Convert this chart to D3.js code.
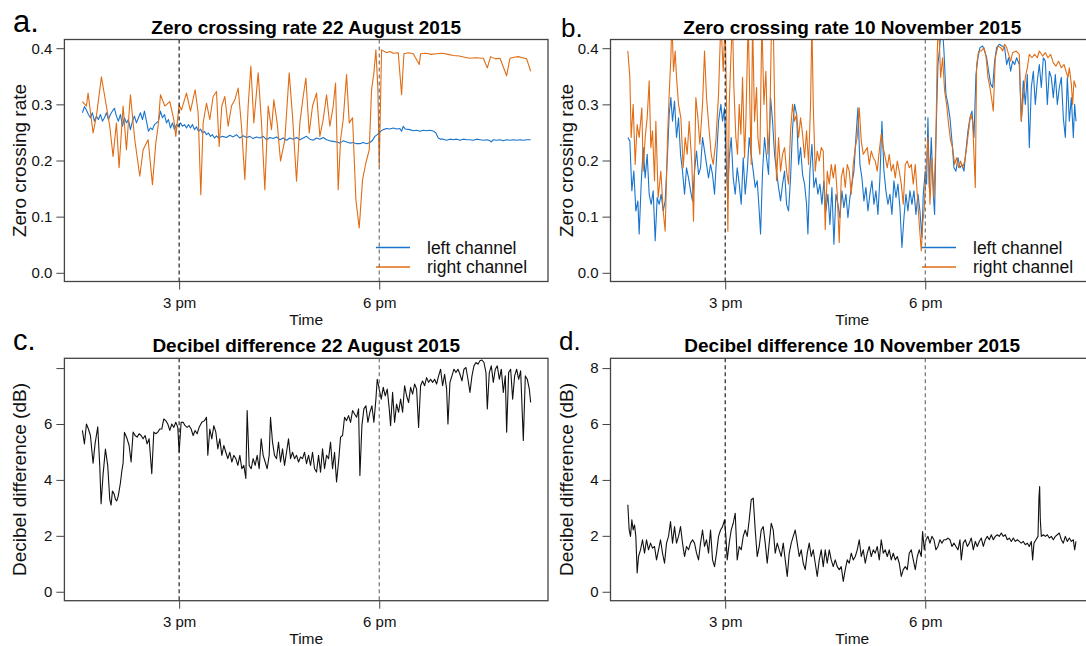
<!DOCTYPE html>
<html>
<head>
<meta charset="utf-8">
<script src="https://cdn.jsdelivr.net/npm/d3@7"></script>
<style>
  body { margin: 0; background: #fff; }
  svg { display: block; font-family: "Liberation Sans", Arial, Helvetica, sans-serif; }
</style>
</head>
<body>
<div id="chart"></div>
<script>
// ---- data (time in decimal hours) ----
const xTicks = [15, 18];
const xTickLabels = ["3 pm", "6 pm"];
const zcrTicks = [0, 0.1, 0.2, 0.3, 0.4];
const zcrTickLabels = ["0.0", "0.1", "0.2", "0.3", "0.4"];
const dbTicks = [0, 2, 4, 6, 8];
const dbTickLabelsAug = ["0", "2", "4", "6", ""];
const dbTickLabelsNov = ["0", "2", "4", "6", "8"];
const seriesNames = ["left channel", "right channel"];

// a. zero crossing rate, 22 August 2015
const zcrAugLeft = [[13.55,.285],[13.58,.296],[13.61,.290],[13.64,.282],[13.67,.276],[13.70,.285],[13.73,.270],[13.76,.279],[13.79,.273],[13.82,.282],[13.85,.270],[13.88,.276],[13.91,.285],[13.94,.273],[13.97,.282],[14.00,.288],[14.03,.293],[14.06,.279],[14.09,.270],[14.12,.282],[14.15,.261],[14.18,.276],[14.21,.267],[14.24,.273],[14.27,.255],[14.30,.270],[14.33,.279],[14.36,.267],[14.39,.276],[14.42,.285],[14.45,.273],[14.48,.288],[14.51,.270],[14.54,.252],[14.57,.258],[14.60,.255],[14.63,.264],[14.66,.267],[14.69,.270],[14.72,.288],[14.75,.276],[14.78,.282],[14.81,.267],[14.84,.273],[14.87,.258],[14.90,.267],[14.93,.255],[14.96,.264],[14.99,.261],[15.02,.267],[15.05,.261],[15.08,.264],[15.11,.258],[15.14,.264],[15.17,.258],[15.20,.264],[15.23,.255],[15.26,.260],[15.29,.252],[15.32,.256],[15.35,.249],[15.38,.252],[15.41,.246],[15.44,.249],[15.47,.243],[15.50,.246],[15.53,.240],[15.56,.244],[15.59,.240],[15.65,.243],[15.71,.241],[15.76,.245],[15.81,.242],[15.86,.246],[15.91,.240],[15.96,.244],[16.01,.241],[16.06,.243],[16.11,.239],[16.16,.242],[16.21,.240],[16.26,.243],[16.31,.237],[16.36,.241],[16.41,.239],[16.46,.242],[16.51,.237],[16.56,.240],[16.61,.236],[16.66,.240],[16.71,.238],[16.76,.241],[16.81,.237],[16.86,.240],[16.91,.243],[16.96,.238],[17.01,.236],[17.06,.240],[17.11,.238],[17.16,.241],[17.21,.237],[17.26,.235],[17.31,.234],[17.36,.233],[17.41,.231],[17.46,.235],[17.51,.233],[17.56,.231],[17.61,.232],[17.66,.230],[17.71,.230],[17.76,.232],[17.81,.230],[17.86,.232],[17.90,.236],[17.935,.243],[17.97,.246],[18.00,.249],[18.03,.253],[18.06,.255],[18.11,.257],[18.16,.256],[18.21,.258],[18.26,.256],[18.31,.257],[18.335,.252],[18.36,.261],[18.39,.256],[18.46,.255],[18.51,.253],[18.56,.254],[18.61,.252],[18.66,.254],[18.71,.253],[18.76,.254],[18.82,.252],[18.85,.249],[18.885,.240],[18.92,.238],[18.96,.238],[19.01,.236],[19.06,.238],[19.11,.237],[19.16,.238],[19.21,.236],[19.26,.238],[19.31,.237],[19.36,.237],[19.41,.236],[19.46,.238],[19.51,.237],[19.56,.236],[19.62,.237],[19.66,.235],[19.68,.233],[19.71,.237],[19.76,.236],[19.81,.237],[19.86,.235],[19.91,.237],[19.96,.236],[20.01,.237],[20.06,.236],[20.11,.237],[20.16,.236],[20.21,.237],[20.27,.237]];
const zcrAugRight = [[13.55,.305],[13.61,.297],[13.635,.320],[13.71,.249],[13.76,.279],[13.835,.349],[13.885,.314],[13.96,.261],[14.01,.207],[14.06,.267],[14.10,.187],[14.16,.297],[14.21,.219],[14.27,.317],[14.335,.237],[14.41,.172],[14.46,.219],[14.535,.237],[14.60,.157],[14.65,.231],[14.685,.261],[14.72,.317],[14.785,.297],[14.86,.305],[14.92,.273],[14.95,.243],[15.00,.299],[15.035,.290],[15.11,.320],[15.17,.288],[15.24,.326],[15.285,.285],[15.325,.139],[15.36,.267],[15.41,.302],[15.46,.273],[15.51,.314],[15.56,.323],[15.60,.225],[15.64,.297],[15.685,.314],[15.735,.261],[15.785,.297],[15.835,.308],[15.885,.329],[15.935,.261],[15.985,.166],[16.035,.297],[16.075,.368],[16.12,.267],[16.185,.356],[16.235,.267],[16.285,.148],[16.335,.297],[16.385,.255],[16.42,.308],[16.47,.267],[16.52,.199],[16.585,.237],[16.65,.356],[16.70,.279],[16.76,.163],[16.81,.267],[16.86,.314],[16.90,.347],[16.95,.249],[17.00,.297],[17.06,.320],[17.11,.243],[17.16,.273],[17.21,.317],[17.26,.261],[17.31,.297],[17.345,.338],[17.385,.148],[17.42,.237],[17.46,.273],[17.51,.353],[17.55,.267],[17.60,.276],[17.65,.130],[17.70,.080],[17.75,.166],[17.80,.196],[17.85,.219],[17.885,.326],[17.92,.356],[17.95,.397],[17.98,.326],[18.00,.190],[18.035,.397],[18.11,.392],[18.16,.394],[18.21,.391],[18.285,.392],[18.335,.317],[18.37,.390],[18.44,.392],[18.51,.390],[18.60,.371],[18.62,.390],[18.70,.391],[18.78,.389],[18.86,.390],[18.95,.391],[19.03,.389],[19.11,.387],[19.20,.386],[19.28,.384],[19.36,.382],[19.45,.383],[19.56,.382],[19.62,.365],[19.67,.385],[19.74,.381],[19.81,.382],[19.91,.351],[19.96,.382],[20.02,.384],[20.085,.385],[20.15,.383],[20.21,.381],[20.27,.359]];

// b. zero crossing rate, 10 November 2015
const zcrNovLeft = [[13.54,.241],[13.57,.235],[13.60,.146],[13.63,.181],[13.66,.110],[13.69,.128],[13.71,.069],[13.74,.158],[13.77,.223],[13.80,.169],[13.83,.211],[13.86,.140],[13.89,.122],[13.92,.146],[13.95,.057],[13.98,.134],[14.01,.122],[14.04,.140],[14.07,.110],[14.10,.128],[14.135,.211],[14.16,.282],[14.185,.312],[14.21,.270],[14.24,.306],[14.27,.241],[14.30,.276],[14.33,.211],[14.36,.181],[14.39,.140],[14.42,.187],[14.45,.169],[14.48,.146],[14.51,.128],[14.54,.181],[14.57,.217],[14.60,.175],[14.63,.187],[14.66,.241],[14.69,.217],[14.72,.193],[14.75,.169],[14.78,.193],[14.81,.175],[14.84,.140],[14.87,.205],[14.90,.270],[14.935,.300],[14.96,.270],[14.99,.294],[15.02,.181],[15.04,.134],[15.06,.205],[15.09,.241],[15.12,.169],[15.15,.140],[15.18,.187],[15.21,.158],[15.24,.122],[15.27,.205],[15.30,.140],[15.33,.181],[15.36,.241],[15.39,.211],[15.42,.181],[15.45,.152],[15.48,.164],[15.51,.110],[15.53,.069],[15.56,.181],[15.59,.241],[15.62,.205],[15.65,.175],[15.68,.312],[15.71,.270],[15.74,.211],[15.77,.181],[15.80,.152],[15.83,.128],[15.86,.158],[15.89,.181],[15.92,.122],[15.95,.110],[15.98,.169],[16.01,.258],[16.04,.300],[16.07,.282],[16.10,.193],[16.13,.223],[16.16,.175],[16.19,.158],[16.22,.122],[16.24,.069],[16.27,.181],[16.30,.229],[16.33,.152],[16.36,.169],[16.39,.140],[16.42,.158],[16.45,.122],[16.48,.164],[16.51,.110],[16.54,.140],[16.57,.086],[16.60,.152],[16.63,.051],[16.66,.140],[16.69,.122],[16.72,.098],[16.75,.146],[16.78,.116],[16.81,.140],[16.84,.098],[16.87,.134],[16.90,.158],[16.93,.181],[16.96,.241],[16.99,.294],[17.02,.193],[17.05,.169],[17.08,.128],[17.11,.152],[17.14,.110],[17.17,.140],[17.20,.164],[17.23,.122],[17.26,.146],[17.29,.104],[17.32,.169],[17.35,.270],[17.38,.181],[17.41,.146],[17.44,.122],[17.47,.140],[17.50,.104],[17.53,.164],[17.56,.134],[17.59,.158],[17.62,.116],[17.65,.045],[17.68,.098],[17.71,.140],[17.74,.110],[17.77,.146],[17.80,.122],[17.83,.146],[17.86,.104],[17.89,.140],[17.92,.110],[17.95,.063],[17.97,.140],[18.00,.181],[18.02,.158],[18.04,.276],[18.06,.152],[18.09,.241],[18.12,.140],[18.14,.104],[18.16,.241],[18.19,.371],[18.22,.407],[18.25,.450],[18.28,.395],[18.31,.318],[18.34,.300],[18.37,.276],[18.40,.235],[18.43,.187],[18.46,.181],[18.49,.205],[18.52,.187],[18.55,.193],[18.58,.181],[18.61,.217],[18.64,.253],[18.67,.276],[18.70,.288],[18.73,.241],[18.76,.353],[18.79,.383],[18.82,.401],[18.86,.404],[18.89,.395],[18.92,.383],[18.95,.359],[18.98,.336],[19.01,.330],[19.04,.377],[19.07,.401],[19.11,.407],[19.15,.404],[19.19,.401],[19.22,.371],[19.25,.383],[19.28,.359],[19.31,.377],[19.34,.371],[19.37,.383],[19.41,.371],[19.44,.270],[19.47,.342],[19.50,.300],[19.53,.353],[19.56,.223],[19.59,.330],[19.62,.359],[19.65,.300],[19.68,.342],[19.71,.371],[19.74,.330],[19.77,.383],[19.80,.377],[19.83,.300],[19.86,.359],[19.89,.348],[19.92,.312],[19.95,.353],[19.98,.300],[20.01,.330],[20.04,.348],[20.07,.276],[20.10,.241],[20.13,.348],[20.16,.270],[20.19,.312],[20.22,.241],[20.24,.300],[20.26,.270]];
const zcrNovRight = [[13.54,.395],[13.57,.348],[13.59,.241],[13.62,.300],[13.65,.193],[13.68,.264],[13.71,.241],[13.75,.294],[13.77,.181],[13.80,.241],[13.83,.276],[13.86,.342],[13.885,.223],[13.91,.253],[13.94,.164],[13.96,.270],[13.995,.134],[14.035,.181],[14.07,.110],[14.10,.074],[14.135,.241],[14.16,.318],[14.185,.383],[14.20,.450],[14.225,.359],[14.25,.395],[14.27,.348],[14.30,.300],[14.335,.276],[14.37,.187],[14.40,.241],[14.43,.211],[14.46,.270],[14.50,.193],[14.525,.092],[14.56,.312],[14.59,.276],[14.62,.229],[14.66,.300],[14.69,.395],[14.72,.312],[14.76,.253],[14.79,.211],[14.82,.193],[14.86,.235],[14.90,.318],[14.935,.450],[14.97,.359],[15.00,.450],[15.02,.300],[15.04,.074],[15.06,.300],[15.085,.383],[15.11,.450],[15.13,.330],[15.16,.241],[15.185,.211],[15.21,.300],[15.235,.247],[15.26,.348],[15.29,.205],[15.31,.270],[15.345,.450],[15.37,.300],[15.39,.193],[15.41,.450],[15.44,.270],[15.47,.330],[15.49,.241],[15.52,.211],[15.55,.450],[15.58,.300],[15.61,.359],[15.64,.211],[15.67,.270],[15.695,.450],[15.72,.450],[15.745,.270],[15.77,.164],[15.80,.241],[15.83,.181],[15.86,.211],[15.89,.223],[15.92,.181],[15.95,.158],[15.98,.253],[16.01,.300],[16.04,.270],[16.07,.282],[16.10,.241],[16.13,.276],[16.16,.247],[16.19,.205],[16.22,.253],[16.25,.193],[16.28,.300],[16.30,.450],[16.32,.300],[16.35,.181],[16.38,.217],[16.41,.199],[16.44,.223],[16.47,.217],[16.50,.077],[16.53,.181],[16.56,.158],[16.59,.193],[16.62,.169],[16.65,.193],[16.68,.140],[16.71,.054],[16.74,.169],[16.77,.187],[16.80,.152],[16.83,.193],[16.86,.181],[16.89,.140],[16.92,.193],[16.95,.223],[16.98,.241],[17.01,.294],[17.04,.235],[17.07,.211],[17.10,.217],[17.13,.223],[17.16,.193],[17.19,.217],[17.22,.205],[17.25,.199],[17.28,.181],[17.31,.217],[17.34,.247],[17.37,.223],[17.40,.205],[17.43,.187],[17.46,.211],[17.49,.181],[17.52,.193],[17.55,.169],[17.58,.199],[17.61,.181],[17.64,.158],[17.67,.122],[17.70,.193],[17.73,.199],[17.76,.187],[17.79,.193],[17.82,.158],[17.85,.193],[17.88,.140],[17.91,.086],[17.94,.039],[17.96,.086],[17.985,.116],[18.01,.181],[18.04,.241],[18.07,.122],[18.10,.205],[18.13,.134],[18.16,.241],[18.18,.395],[18.20,.450],[18.23,.348],[18.26,.383],[18.29,.324],[18.32,.300],[18.35,.264],[18.38,.235],[18.41,.223],[18.44,.193],[18.47,.205],[18.50,.187],[18.53,.199],[18.56,.187],[18.59,.199],[18.62,.223],[18.65,.253],[18.68,.282],[18.71,.270],[18.73,.211],[18.75,.152],[18.77,.371],[18.80,.395],[18.84,.395],[18.88,.401],[18.91,.386],[18.94,.348],[18.97,.330],[19.00,.306],[19.02,.288],[19.05,.383],[19.09,.404],[19.13,.401],[19.16,.395],[19.19,.407],[19.22,.401],[19.25,.389],[19.28,.377],[19.31,.392],[19.36,.395],[19.41,.389],[19.44,.270],[19.47,.312],[19.50,.348],[19.53,.365],[19.56,.389],[19.60,.383],[19.64,.389],[19.68,.383],[19.71,.395],[19.76,.386],[19.80,.392],[19.84,.383],[19.88,.389],[19.92,.374],[19.96,.368],[20.00,.377],[20.04,.365],[20.08,.371],[20.11,.359],[20.14,.348],[20.16,.365],[20.19,.336],[20.21,.300],[20.23,.342],[20.26,.330]];

// c. decibel difference, 22 August 2015
const dbAug = [[13.55,5.77],[13.58,5.29],[13.61,6.00],[13.64,5.82],[13.67,5.59],[13.71,4.60],[13.74,5.30],[13.78,5.90],[13.81,4.50],[13.83,3.15],[13.86,4.20],[13.895,5.10],[13.93,4.50],[13.96,3.30],[13.98,3.10],[14.00,3.60],[14.025,3.50],[14.045,3.30],[14.065,3.25],[14.085,3.40],[14.10,3.60],[14.12,3.90],[14.14,4.30],[14.16,4.60],[14.18,5.70],[14.19,5.65],[14.22,5.47],[14.25,5.23],[14.28,4.64],[14.31,5.71],[14.34,5.59],[14.37,5.53],[14.40,5.65],[14.43,5.59],[14.46,5.47],[14.49,5.59],[14.52,5.29],[14.55,5.47],[14.59,4.22],[14.62,5.71],[14.65,5.65],[14.68,5.71],[14.71,5.82],[14.74,5.82],[14.77,6.18],[14.80,6.12],[14.83,6.00],[14.86,5.77],[14.89,6.00],[14.92,5.88],[14.95,6.06],[14.98,5.88],[15.00,4.99],[15.03,6.06],[15.06,6.06],[15.09,5.94],[15.12,5.88],[15.15,5.94],[15.18,5.82],[15.21,5.59],[15.24,5.77],[15.27,5.65],[15.30,5.88],[15.34,6.06],[15.38,6.12],[15.41,6.24],[15.43,4.88],[15.46,5.82],[15.49,5.47],[15.52,5.94],[15.55,5.71],[15.58,5.11],[15.61,5.47],[15.64,4.88],[15.67,5.23],[15.70,4.99],[15.73,4.76],[15.76,4.99],[15.79,4.64],[15.82,4.88],[15.85,4.76],[15.88,4.52],[15.91,4.88],[15.94,4.40],[15.97,4.52],[16.00,4.05],[16.02,6.48],[16.05,4.52],[16.08,4.40],[16.11,4.76],[16.14,4.52],[16.17,4.88],[16.20,4.40],[16.23,5.47],[16.26,4.88],[16.29,4.64],[16.32,4.40],[16.35,4.88],[16.37,6.24],[16.40,5.35],[16.43,4.88],[16.46,4.76],[16.49,5.35],[16.52,4.64],[16.55,5.11],[16.58,4.52],[16.61,4.99],[16.64,5.47],[16.67,4.76],[16.70,4.99],[16.73,4.76],[16.76,4.88],[16.79,4.64],[16.82,4.82],[16.85,4.76],[16.88,4.99],[16.91,4.58],[16.94,4.88],[16.97,4.52],[17.00,4.99],[17.03,4.40],[17.06,4.28],[17.09,4.88],[17.12,4.28],[17.15,5.11],[17.18,4.40],[17.21,4.88],[17.24,4.76],[17.27,5.35],[17.30,4.40],[17.33,4.99],[17.36,3.93],[17.39,4.64],[17.42,5.53],[17.45,5.59],[17.48,6.24],[17.51,6.12],[17.54,6.30],[17.57,6.06],[17.60,6.48],[17.63,6.36],[17.66,6.24],[17.69,6.54],[17.71,4.16],[17.74,5.94],[17.77,6.54],[17.80,6.65],[17.83,6.06],[17.86,6.42],[17.89,6.65],[17.92,6.06],[17.95,6.89],[17.97,7.60],[18.00,7.25],[18.03,6.89],[18.06,7.31],[18.09,7.01],[18.12,7.25],[18.15,6.54],[18.17,5.94],[18.20,7.13],[18.23,6.06],[18.26,6.71],[18.29,6.42],[18.32,6.89],[18.35,6.42],[18.38,7.37],[18.41,7.01],[18.44,6.77],[18.47,7.31],[18.50,7.07],[18.53,7.43],[18.56,7.25],[18.59,5.88],[18.62,7.37],[18.65,7.54],[18.68,7.37],[18.71,7.66],[18.74,7.49],[18.77,7.60],[18.80,7.49],[18.83,7.60],[18.86,7.43],[18.89,7.72],[18.92,7.96],[18.95,7.37],[18.98,7.78],[19.01,7.25],[19.03,6.00],[19.06,7.49],[19.09,7.72],[19.12,7.96],[19.15,7.84],[19.18,7.96],[19.21,7.78],[19.24,7.54],[19.27,7.96],[19.30,8.02],[19.33,7.60],[19.36,7.13],[19.39,7.72],[19.42,8.08],[19.45,8.20],[19.48,8.14],[19.51,8.26],[19.54,8.29],[19.57,8.20],[19.60,7.84],[19.62,6.54],[19.65,7.84],[19.68,8.08],[19.71,7.49],[19.74,7.96],[19.77,8.08],[19.80,7.60],[19.83,7.96],[19.86,7.13],[19.89,7.72],[19.91,5.71],[19.94,7.84],[19.97,7.96],[20.00,6.89],[20.03,7.72],[20.06,7.96],[20.09,7.60],[20.12,7.90],[20.16,5.41],[20.19,7.72],[20.22,7.60],[20.25,7.25],[20.27,6.77]];

// d. decibel difference, 10 November 2015
const dbNov = [[13.54,3.11],[13.56,2.21],[13.58,1.98],[13.60,2.57],[13.62,2.21],[13.64,2.39],[13.66,1.98],[13.68,0.67],[13.70,1.26],[13.73,1.50],[13.76,1.86],[13.79,1.38],[13.82,1.86],[13.85,1.50],[13.88,1.74],[13.91,1.56],[13.94,1.62],[13.97,1.14],[14.00,1.50],[14.03,1.86],[14.06,1.38],[14.09,1.02],[14.12,1.74],[14.15,1.98],[14.18,2.51],[14.21,1.74],[14.24,2.33],[14.27,1.74],[14.30,1.98],[14.33,2.33],[14.36,1.74],[14.39,1.26],[14.42,1.62],[14.45,1.50],[14.48,1.74],[14.51,1.86],[14.54,1.74],[14.57,1.38],[14.60,1.14],[14.63,1.74],[14.66,2.21],[14.69,1.62],[14.72,1.86],[14.75,1.38],[14.78,2.21],[14.81,1.14],[14.84,0.90],[14.87,1.38],[14.90,1.98],[14.93,2.21],[14.96,2.33],[14.99,2.57],[15.01,1.98],[15.03,1.14],[15.06,1.74],[15.09,2.21],[15.12,2.45],[15.15,2.81],[15.18,1.14],[15.21,1.62],[15.24,1.50],[15.27,1.98],[15.30,2.21],[15.33,1.98],[15.36,2.57],[15.39,3.29],[15.42,3.35],[15.45,2.21],[15.48,1.26],[15.51,1.62],[15.54,2.21],[15.57,2.33],[15.60,1.74],[15.63,1.02],[15.66,1.74],[15.69,2.45],[15.72,2.21],[15.75,1.38],[15.78,1.74],[15.81,1.50],[15.84,1.26],[15.87,1.74],[15.90,1.14],[15.93,0.55],[15.96,1.38],[15.99,1.74],[16.02,1.98],[16.05,2.21],[16.08,1.74],[16.11,1.26],[16.14,1.50],[16.17,1.02],[16.20,0.79],[16.23,1.38],[16.26,1.74],[16.29,1.26],[16.32,1.50],[16.35,1.02],[16.38,0.55],[16.41,1.14],[16.44,1.50],[16.47,0.90],[16.50,1.50],[16.53,1.02],[16.56,1.50],[16.59,1.14],[16.62,0.90],[16.65,1.14],[16.68,0.90],[16.71,0.79],[16.74,0.90],[16.77,0.37],[16.80,0.79],[16.83,1.14],[16.86,1.02],[16.89,1.38],[16.92,1.14],[16.95,1.26],[16.98,1.50],[17.01,1.86],[17.04,1.26],[17.07,1.50],[17.10,1.02],[17.13,1.38],[17.16,1.62],[17.19,1.26],[17.22,1.50],[17.25,1.38],[17.28,1.62],[17.31,1.14],[17.34,1.86],[17.37,1.38],[17.40,1.50],[17.43,1.26],[17.46,1.50],[17.49,1.14],[17.52,1.38],[17.55,1.14],[17.58,1.26],[17.61,1.02],[17.64,0.55],[17.67,0.79],[17.70,0.90],[17.73,0.79],[17.76,1.38],[17.79,1.50],[17.82,1.14],[17.85,0.79],[17.88,1.26],[17.91,1.50],[17.94,1.26],[17.96,2.15],[17.985,1.50],[18.01,1.86],[18.04,1.98],[18.07,1.74],[18.10,1.98],[18.13,1.86],[18.16,1.50],[18.19,1.62],[18.22,1.86],[18.25,1.74],[18.28,1.86],[18.31,1.86],[18.34,1.92],[18.37,1.86],[18.40,1.62],[18.43,1.74],[18.46,1.62],[18.49,1.50],[18.52,1.86],[18.54,1.14],[18.57,1.74],[18.60,1.86],[18.63,1.62],[18.66,1.74],[18.69,1.92],[18.72,1.50],[18.75,1.80],[18.78,1.62],[18.81,1.80],[18.84,1.92],[18.87,1.62],[18.90,1.86],[18.93,1.98],[18.96,1.86],[18.99,2.04],[19.02,1.86],[19.05,1.98],[19.08,2.04],[19.11,1.98],[19.14,2.10],[19.17,1.98],[19.20,2.04],[19.23,1.86],[19.26,1.92],[19.29,1.80],[19.32,1.92],[19.35,1.80],[19.38,1.86],[19.41,1.80],[19.44,1.74],[19.47,1.80],[19.50,1.68],[19.53,1.74],[19.56,1.62],[19.59,1.80],[19.61,1.14],[19.63,1.74],[19.66,1.86],[19.69,1.98],[19.705,3.40],[19.715,3.76],[19.725,2.57],[19.74,1.98],[19.77,2.04],[19.80,1.98],[19.83,2.04],[19.86,1.92],[19.89,1.98],[19.92,1.86],[19.95,1.98],[19.98,2.04],[20.01,2.10],[20.04,1.86],[20.07,1.74],[20.10,1.98],[20.13,1.80],[20.16,1.92],[20.19,1.80],[20.22,1.86],[20.24,1.50],[20.26,1.80]];

const leftColor = "#1874cd", rightColor = "#e06c14";

const svg = d3.select("#chart")
  .append("svg")
    .attr("width", 1086)
    .attr("height", 646);

let clipId = 0;

function drawPanel(p) {
  const x = d3.scaleLinear().domain([13.28, 20.53]).range([p.left, p.right]);
  const y = d3.scaleLinear().domain(p.yDomain).range([p.bottom, p.top]);
  const g = svg.append("g");

  // y axis
  const yAxis = g.append("g")
      .attr("transform", `translate(${p.left},0)`)
      .call(d3.axisLeft(y).tickValues(p.yTicks).tickFormat((d, i) => p.yTickLabels[i]).tickSize(8).tickPadding(4));
  yAxis.select(".domain").remove();

  // x axis
  const xAxis = g.append("g")
      .attr("transform", `translate(0,${p.bottom})`)
      .call(d3.axisBottom(x).tickValues(xTicks).tickFormat((d, i) => xTickLabels[i]).tickSize(8).tickPadding(8));
  xAxis.select(".domain").remove();

  g.selectAll(".tick line").attr("stroke", "#444");
  g.selectAll(".tick text")
      .attr("fill", "#111")
      .style("font-size", "15px")
      .style("font-family", '"Liberation Sans", Arial, sans-serif');

  // data lines
  const id = "clip" + (clipId++);
  g.append("clipPath").attr("id", id)
    .append("rect")
      .attr("x", p.left).attr("y", p.top)
      .attr("width", p.right - p.left).attr("height", p.bottom - p.top);

  const line = d3.line().x(d => x(d[0])).y(d => y(d[1]));
  const lines = g.append("g").attr("clip-path", `url(#${id})`);
  p.series.forEach(s => {
    lines.append("path")
        .datum(s.data)
        .attr("fill", "none")
        .attr("stroke", s.color)
        .attr("stroke-width", 1.1)
        .attr("stroke-linejoin", "round")
        .attr("d", line);
  });

  // dashed reference lines at 3 pm and 6 pm
  xTicks.forEach((t, i) => {
    g.append("line")
        .attr("x1", x(t)).attr("x2", x(t))
        .attr("y1", p.top).attr("y2", p.bottom)
        .attr("stroke", i === 0 ? "#111" : "#666")
        .attr("stroke-width", 1.1)
        .attr("stroke-dasharray", "4,3");
  });

  // box
  g.append("rect")
      .attr("x", p.left).attr("y", p.top)
      .attr("width", p.right - p.left).attr("height", p.bottom - p.top)
      .attr("fill", "none")
      .attr("stroke", "#444")
      .attr("stroke-width", 1.3);

  // title, axis labels and panel tag
  g.append("text")
      .attr("x", (p.left + p.right) / 2)
      .attr("y", p.top - 6)
      .attr("text-anchor", "middle")
      .style("font-size", "19px")
      .style("font-weight", "bold")
      .text(p.title);

  g.append("text")
      .attr("x", (p.left + p.right) / 2)
      .attr("y", p.bottom + 43.5)
      .attr("text-anchor", "middle")
      .style("font-size", "15.5px")
      .attr("fill", "#111")
      .text("Time");

  g.append("text")
      .attr("transform", `translate(${p.left - 38},${(p.top + p.bottom) / 2}) rotate(-90)`)
      .attr("text-anchor", "middle")
      .style("font-size", "19px")
      .attr("fill", "#111")
      .text(p.ylabel);

  g.append("text")
      .attr("x", p.tagX).attr("y", p.tagY)
      .style("font-size", p.tagSize + "px")
      .text(p.tag);

  // legend
  if (p.legend) {
    const legend = g.append("g").attr("transform", `translate(${p.right - 172},${p.bottom})`);
    [leftColor, rightColor].forEach((c, i) => {
      legend.append("line")
          .attr("x1", 0).attr("x2", 34)
          .attr("y1", -34 + i * 19.5).attr("y2", -34 + i * 19.5)
          .attr("stroke", c).attr("stroke-width", 1.3);
      legend.append("text")
          .attr("x", 51).attr("y", -28 + i * 19.5)
          .style("font-size", "17.5px")
          .attr("fill", "#111")
          .text(seriesNames[i]);
    });
  }
}

drawPanel({
  left: 64.4, right: 548, top: 39.5, bottom: 281.5,
  yDomain: [-0.0155, 0.4155], yTicks: zcrTicks, yTickLabels: zcrTickLabels,
  title: "Zero crossing rate 22 August 2015", ylabel: "Zero crossing rate",
  tag: "a.", tagX: 13, tagY: 31.5, tagSize: 31,
  series: [{data: zcrAugLeft, color: leftColor}, {data: zcrAugRight, color: rightColor}],
  legend: true
});

drawPanel({
  left: 610.5, right: 1094, top: 39.5, bottom: 281.5,
  yDomain: [-0.0155, 0.4155], yTicks: zcrTicks, yTickLabels: zcrTickLabels,
  title: "Zero crossing rate 10 November 2015", ylabel: "Zero crossing rate",
  tag: "b.", tagX: 561, tagY: 36.7, tagSize: 26,
  series: [{data: zcrNovLeft, color: leftColor}, {data: zcrNovRight, color: rightColor}],
  legend: true
});

drawPanel({
  left: 64.4, right: 548, top: 358.3, bottom: 600.7,
  yDomain: [-0.32, 8.35], yTicks: dbTicks, yTickLabels: dbTickLabelsAug,
  title: "Decibel difference 22 August 2015", ylabel: "Decibel difference (dB)",
  tag: "c.", tagX: 13, tagY: 350, tagSize: 29,
  series: [{data: dbAug, color: "#111"}],
  legend: false
});

drawPanel({
  left: 610.5, right: 1094, top: 358.3, bottom: 600.7,
  yDomain: [-0.32, 8.35], yTicks: dbTicks, yTickLabels: dbTickLabelsNov,
  title: "Decibel difference 10 November 2015", ylabel: "Decibel difference (dB)",
  tag: "d.", tagX: 559, tagY: 350, tagSize: 26,
  series: [{data: dbNov, color: "#111"}],
  legend: false
});
</script>
</body>
</html>
